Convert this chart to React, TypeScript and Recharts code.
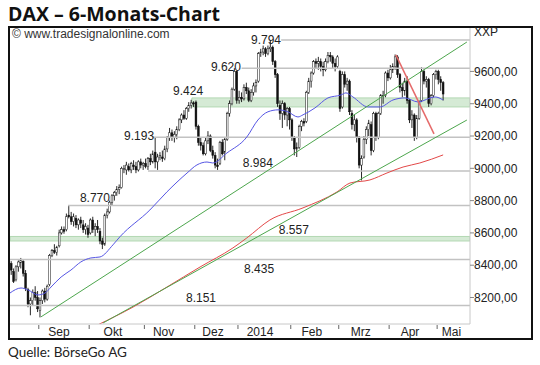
import React from "react";
import {
  ComposedChart,
  Bar,
  Line,
  XAxis,
  YAxis,
  ReferenceLine,
  ReferenceArea,
  ReferenceDot,
} from "recharts";

// daily candles [open, high, low, close], one array per month
const aug = [
  [8410, 8425, 8340, 8370], [8360, 8380, 8290, 8300], [8310, 8400, 8300, 8390],
  [8390, 8430, 8360, 8420], [8415, 8445, 8380, 8430], [8425, 8430, 8330, 8350],
  [8350, 8370, 8240, 8255], [8250, 8260, 8140, 8160], [8160, 8200, 8090, 8180],
  [8180, 8250, 8150, 8230], [8230, 8270, 8180, 8200], [8200, 8240, 8110, 8130],
];
const sep = [
  [8120, 8200, 8077, 8180], [8180, 8250, 8160, 8240], [8240, 8260, 8170, 8190],
  [8190, 8280, 8180, 8270], [8280, 8470, 8270, 8460], [8460, 8500, 8450, 8490],
  [8490, 8530, 8470, 8480], [8480, 8520, 8460, 8510], [8520, 8620, 8510, 8600],
  [8600, 8640, 8590, 8620], [8620, 8640, 8595, 8610], [8620, 8720, 8610, 8700],
  [8710, 8770, 8690, 8700], [8700, 8730, 8650, 8670], [8670, 8720, 8640, 8700],
  [8690, 8710, 8630, 8650], [8650, 8690, 8620, 8680], [8680, 8700, 8630, 8660],
  [8650, 8680, 8600, 8620], [8620, 8660, 8590, 8640], [8630, 8650, 8570, 8590],
];
const okt = [
  [8600, 8690, 8590, 8680], [8680, 8700, 8600, 8620], [8620, 8660, 8580, 8640],
  [8640, 8680, 8600, 8620], [8610, 8630, 8530, 8550], [8550, 8570, 8500, 8530],
  [8530, 8720, 8520, 8710], [8710, 8750, 8690, 8730], [8730, 8800, 8720, 8790],
  [8790, 8840, 8770, 8830], [8830, 8860, 8800, 8850], [8850, 8890, 8830, 8870],
  [8870, 8900, 8840, 8880], [8880, 9010, 8875, 9000], [9000, 9020, 8970, 9000],
  [8990, 9040, 8960, 9020], [9010, 9030, 8980, 8990], [8990, 9040, 8970, 9030],
  [9020, 9050, 8990, 9010], [9010, 9040, 8970, 8990], [8990, 9050, 8980, 9040],
  [9040, 9060, 9000, 9020], [9020, 9040, 8990, 9030],
];
const nov = [
  [9030, 9060, 9000, 9010], [9010, 9070, 8990, 9060], [9060, 9090, 9020, 9040],
  [9040, 9110, 9030, 9090], [9100, 9193, 9000, 9040], [9040, 9090, 8990, 9070],
  [9070, 9100, 9050, 9080], [9070, 9110, 9040, 9060], [9060, 9140, 9050, 9120],
  [9120, 9200, 9100, 9190], [9190, 9250, 9170, 9220], [9220, 9240, 9170, 9190],
  [9190, 9230, 9160, 9210], [9210, 9260, 9180, 9240], [9240, 9310, 9230, 9300],
  [9300, 9340, 9280, 9330], [9330, 9360, 9300, 9310], [9310, 9380, 9300, 9370],
  [9370, 9410, 9350, 9390], [9390, 9424, 9370, 9405], [9405, 9415, 9380, 9400],
];
const dez = [
  [9410, 9420, 9240, 9260], [9260, 9270, 9140, 9160], [9160, 9190, 9110, 9140],
  [9140, 9160, 9080, 9090], [9090, 9190, 9080, 9170], [9170, 9230, 9150, 9200],
  [9200, 9210, 9100, 9110], [9110, 9140, 9060, 9080], [9080, 9100, 9000, 9020],
  [9020, 9060, 8990, 9010], [9030, 9170, 9020, 9160], [9160, 9180, 9080, 9090],
  [9100, 9190, 9050, 9180], [9180, 9350, 9170, 9340], [9340, 9420, 9320, 9400],
  [9400, 9500, 9390, 9490], [9490, 9620, 9480, 9600], [9600, 9605, 9400, 9420],
];
const jan = [
  [9420, 9480, 9400, 9440], [9440, 9470, 9410, 9430], [9430, 9520, 9420, 9500],
  [9500, 9530, 9460, 9480], [9480, 9500, 9410, 9420], [9420, 9490, 9410, 9470],
  [9470, 9530, 9450, 9510], [9510, 9550, 9470, 9530], [9540, 9720, 9530, 9710],
  [9710, 9740, 9690, 9720], [9720, 9760, 9700, 9740], [9740, 9750, 9690, 9710],
  [9710, 9760, 9700, 9740], [9740, 9794, 9720, 9750], [9750, 9760, 9640, 9660],
  [9660, 9670, 9560, 9580], [9580, 9590, 9380, 9400], [9390, 9420, 9300, 9340],
  [9340, 9420, 9250, 9400], [9400, 9410, 9300, 9330], [9330, 9380, 9260, 9370],
  [9370, 9380, 9240, 9300],
];
const feb = [
  [9300, 9310, 9170, 9190], [9190, 9200, 9080, 9120], [9120, 9160, 9070, 9130],
  [9130, 9270, 9120, 9260], [9260, 9300, 9230, 9290], [9290, 9310, 9260, 9280],
  [9290, 9480, 9280, 9470], [9470, 9560, 9460, 9540], [9540, 9600, 9500, 9590],
  [9590, 9670, 9580, 9660], [9660, 9680, 9620, 9650], [9650, 9690, 9610, 9660],
  [9660, 9680, 9600, 9630], [9630, 9660, 9570, 9610], [9610, 9680, 9600, 9660],
  [9660, 9720, 9650, 9700], [9700, 9720, 9660, 9690], [9690, 9700, 9620, 9650],
  [9650, 9680, 9600, 9630], [9630, 9700, 9620, 9690],
];
const mrz = [
  [9600, 9610, 9350, 9370], [9380, 9600, 9370, 9580], [9580, 9600, 9500, 9520],
  [9520, 9560, 9480, 9540], [9540, 9550, 9330, 9350], [9340, 9360, 9240, 9270],
  [9270, 9330, 9230, 9300], [9300, 9310, 9160, 9190], [9190, 9200, 9000, 9020],
  [9020, 9080, 8925, 9060], [9070, 9200, 9060, 9180], [9180, 9260, 9150, 9240],
  [9240, 9300, 9200, 9280], [9270, 9290, 9080, 9110], [9110, 9350, 9100, 9340],
  [9340, 9350, 9170, 9190], [9190, 9350, 9180, 9340], [9340, 9460, 9330, 9450],
  [9450, 9480, 9400, 9450], [9450, 9600, 9440, 9590], [9590, 9610, 9540, 9560],
];
const apr = [
  [9560, 9640, 9550, 9610], [9610, 9650, 9590, 9630], [9630, 9705, 9610, 9690],
  [9690, 9700, 9560, 9580], [9580, 9590, 9470, 9500], [9500, 9530, 9440, 9480],
  [9480, 9560, 9450, 9540], [9540, 9570, 9400, 9420], [9420, 9430, 9280, 9300],
  [9300, 9360, 9250, 9330], [9330, 9340, 9170, 9190], [9190, 9330, 9180, 9310],
  [9310, 9420, 9300, 9410], [9420, 9625, 9410, 9600], [9600, 9610, 9520, 9540],
  [9540, 9570, 9500, 9550], [9550, 9560, 9380, 9400], [9400, 9460, 9390, 9450],
  [9450, 9590, 9440, 9580], [9580, 9610, 9550, 9600],
];
const mai = [
  [9600, 9610, 9520, 9550], [9550, 9570, 9480, 9530], [9530, 9540, 9420, 9460],
];

// moving averages: [day index, value]
const blueMA = [
  [-0.5, 8228], [4.1, 8259], [7, 8247], [11.2, 8216], [14.1, 8228], [16.6, 8265],
  [20.8, 8327], [24.9, 8370], [29, 8420], [33.2, 8445], [37, 8451], [42.4, 8526],
  [45.3, 8576], [57.8, 8742], [64.9, 8854], [73.3, 8971], [77.4, 9021], [81.6, 9039],
  [84, 9033], [89.9, 9095], [98.2, 9194], [102.8, 9299], [107, 9350], [111.2, 9362],
  [115.3, 9350], [119.5, 9318], [121.6, 9331], [126.6, 9374], [132, 9436],
  [137.4, 9454], [139.5, 9467], [142.4, 9442], [148.7, 9380], [153.7, 9380],
  [159.1, 9423], [164.1, 9436], [169.5, 9411], [176.6, 9442], [180, 9423],
];
const redMA = [
  [36, 8030], [50.8, 8141], [64.9, 8265], [78.7, 8389], [92.4, 8507], [98.2, 8569],
  [107.8, 8680], [121.6, 8755], [135.8, 8854], [141.2, 8909], [149.5, 8928],
  [156.6, 8971], [163.3, 9008], [170.3, 9033], [180, 9083],
];

// trend lines: [day index, value] start and end
const trendUp = [[12.4, 8080], [189.9, 9782]];
const trendLow = [[38.25, 8042], [189.9, 9299]];
const trendDown = [[160.3, 9702], [176.2, 9213]];

// support / resistance levels
const levelValues = [9794, 9620, 9193, 8984, 8770, 8435, 8151];
const levelStarts = [112.5, 96, 58.7, 57, 23.7, -0.5, -0.5];
const bandRanges = [[9380, 9436], [8550, 8578]];
const bandStarts = [75.3, -0.5];
const levelTexts = ["9.794", "9.620", "9.424", "9.193", "8.984", "8.770", "8.557", "8.435", "8.151"];

// axis ticks
const yTicks = [8200, 8400, 8600, 8800, 9000, 9200, 9400, 9600];
const monthLabels = ["Sep", "Okt", "Nov", "Dez", "2014", "Feb", "Mrz", "Apr", "Mai"];
const monthStarts = [11.5, 32.5, 55.5, 76.5, 94.5, 116.5, 136.5, 157.5, 177.5];

// layout for text
const monthLabelAt = [19.9, 42.4, 63.5, 84.1, 103.7, 125.3, 145.7, 166.2, 183.5];
const labelSpots = [
  { i: 106.2, v: 9794, dy: 4 },
  { i: 89.5, v: 9620, dy: 3 },
  { i: 73.7, v: 9436, dy: -3 },
  { i: 53.3, v: 9193, dy: 3 },
  { i: 102.8, v: 8984, dy: -4 },
  { i: 34.9, v: 8770, dy: -3 },
  { i: 117.8, v: 8578, dy: -2 },
  { i: 103.3, v: 8435, dy: 13 },
  { i: 79.1, v: 8151, dy: -3 },
];

const X_MIN = -0.5;
const X_MAX = 191.2;
const SMALL = '"Liberation Sans", Arial, sans-serif';

const bars = [...aug, ...sep, ...okt, ...nov, ...dez, ...jan, ...feb, ...mrz, ...apr, ...mai].map(
  ([o, h, l, c], i) => ({ i, o, h, l, c, range: [l, h] })
);
const toPts = (arr: number[][]) => arr.map(([i, v]) => ({ i, v }));

const Candle = (props: any) => {
  const { x, y, width, height, payload } = props;
  if (x == null || y == null || !payload) return null;
  const top = Math.min(y, y + height);
  const bot = Math.max(y, y + height);
  const span = payload.h - payload.l || 1;
  const at = (v: number) => top + ((payload.h - v) / span) * (bot - top);
  const cx = x + width / 2;
  const yo = at(payload.o);
  const yc = at(payload.c);
  const up = payload.c >= payload.o;
  return (
    <g>
      <line x1={cx} x2={cx} y1={top} y2={bot} stroke="#111" strokeWidth={0.9} />
      <rect
        x={cx - 0.9}
        y={Math.min(yo, yc)}
        width={1.8}
        height={Math.max(Math.abs(yc - yo), 1)}
        fill={up ? "#fff" : "#111"}
        stroke="#111"
        strokeWidth={0.5}
      />
    </g>
  );
};

const MonthTick = ({ x, y, payload }: any) => {
  const k = monthLabelAt.indexOf(payload.value);
  if (k >= 0) {
    return (
      <text x={x} y={y + 12} textAnchor="middle" fontFamily={SMALL} fontSize={12} fill="#222">
        {monthLabels[k]}
      </text>
    );
  }
  return <line x1={x} x2={x} y1={y + 1} y2={y + 5} stroke="#666" strokeWidth={1} />;
};

export default function App() {
  return (
    <div style={{ position: "absolute", left: 0, top: 0, width: 540, height: 365, background: "#fff" }}>
      <ComposedChart
        width={540}
        height={365}
        data={bars}
        margin={{ top: 27, right: 8, bottom: 26, left: 10 }}
      >
        <XAxis
          dataKey="i"
          type="number"
          domain={[X_MIN, X_MAX]}
          allowDataOverflow
          ticks={[...monthStarts, ...monthLabelAt]}
          interval={0}
          tick={<MonthTick />}
          tickLine={false}
          tickSize={0}
          tickMargin={0}
          height={15}
          axisLine={{ stroke: "#c8c8c8" }}
        />
        <YAxis
          orientation="right"
          type="number"
          domain={[8036, 9875]}
          allowDataOverflow
          ticks={yTicks}
          interval={0}
          width={62}
          tickSize={4}
          tickMargin={0}
          tickFormatter={(v: number) => `${v},00`}
          tick={{ fontFamily: SMALL, fontSize: 12, fill: "#222" }}
          tickLine={{ stroke: "#888" }}
          axisLine={{ stroke: "#c8c8c8" }}
        />

        {bandRanges.map(([y1, y2], k) => (
          <ReferenceArea
            key={`band${k}`}
            x1={bandStarts[k]}
            x2={X_MAX}
            y1={y1}
            y2={y2}
            fill="#d5ead5"
            fillOpacity={1}
            stroke="#b3d8b3"
            strokeWidth={1}
            ifOverflow="hidden"
          />
        ))}
        {levelValues.map((v, k) => (
          <ReferenceLine
            key={`lvl${k}`}
            segment={[{ x: levelStarts[k], y: v }, { x: X_MAX, y: v }]}
            stroke="#c2c2c2"
            strokeWidth={1.5}
            ifOverflow="hidden"
          />
        ))}

        <Bar dataKey="range" barSize={3} shape={<Candle />} isAnimationActive={false} />

        <Line
          data={toPts(redMA)}
          dataKey="v"
          type="monotone"
          stroke="#e34848"
          strokeWidth={1}
          dot={false}
          isAnimationActive={false}
        />
        <Line
          data={toPts(blueMA)}
          dataKey="v"
          type="monotone"
          stroke="#5656e4"
          strokeWidth={1}
          dot={false}
          isAnimationActive={false}
        />

        {[trendUp, trendLow].map((t, k) => (
          <ReferenceLine
            key={`tr${k}`}
            segment={[{ x: t[0][0], y: t[0][1] }, { x: t[1][0], y: t[1][1] }]}
            stroke="#4da64d"
            strokeWidth={1}
            ifOverflow="hidden"
          />
        ))}
        <ReferenceLine
          segment={[
            { x: trendDown[0][0], y: trendDown[0][1] },
            { x: trendDown[1][0], y: trendDown[1][1] },
          ]}
          stroke="#e56a6a"
          strokeWidth={1.5}
          ifOverflow="hidden"
        />

        {labelSpots.map((s, k) => (
          <ReferenceDot
            key={`lab${k}`}
            x={s.i}
            y={s.v}
            r={0}
            ifOverflow="visible"
            shape={(p: any) => (
              <text
                x={p.cx}
                y={p.cy + s.dy}
                textAnchor="middle"
                fontFamily={SMALL}
                fontSize={12}
                fill="#222"
              >
                {levelTexts[k]}
              </text>
            )}
          />
        ))}
      </ComposedChart>

      <svg
        width={540}
        height={365}
        style={{ position: "absolute", left: 0, top: 0, pointerEvents: "none" }}
      >
        <text x={8} y={21} fontFamily='"Open Sans", sans-serif' fontWeight={700} fontSize={19.5} fill="#111">
          DAX – 6-Monats-Chart
        </text>
        <rect x={9} y={27} width={523} height={312} fill="none" stroke="#111" strokeWidth={2} />
        <text x={12} y={37.5} fontFamily={SMALL} fontSize={12} fill="#333">
          © www.tradesignalonline.com
        </text>
        <text x={474} y={36} fontFamily={SMALL} fontSize={12} fill="#222">
          XXP
        </text>
        <text x={8} y={357} fontFamily="Lato, sans-serif" fontSize={13.5} fill="#222">
          Quelle: BörseGo AG
        </text>
      </svg>
    </div>
  );
}
